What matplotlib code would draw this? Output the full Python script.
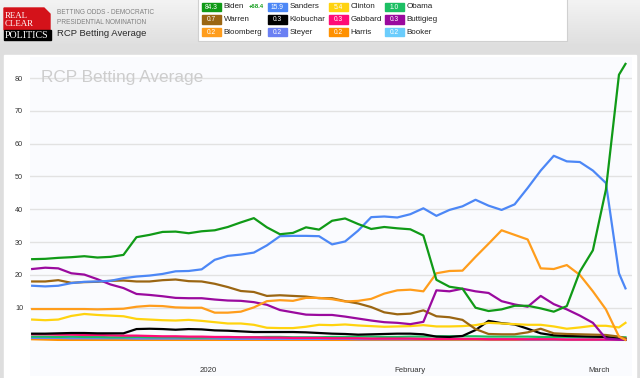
import matplotlib
matplotlib.use("Agg")
import matplotlib.pyplot as plt
import matplotlib.dates as mdates
import numpy as np
import pandas as pd
from matplotlib.patches import Rectangle, Polygon

# every other day from Dec 5 2019, plus the latest day
dates = list(pd.date_range("2019-12-05", "2020-03-04", freq="2D")) + [pd.Timestamp("2020-03-05")]

biden = [24.8, 24.9, 25.2, 25.4, 25.7, 25.3, 25.5, 26.1, 31.5, 32.2,
         33.1, 33.2, 32.7, 33.3, 33.6, 34.6, 36.0, 37.3, 34.5, 32.4,
         32.8, 34.5, 33.8, 36.5, 37.2, 35.5, 34.0, 34.6, 34.2, 33.9,
         32.0, 18.5, 16.4, 15.8, 10.0, 9.0, 9.5, 10.6, 10.6, 9.8,
         8.8, 10.5, 21.0, 27.5, 46.0, 81.0, 84.3]
sanders = [16.7, 16.5, 16.7, 17.5, 17.9, 18.0, 18.2, 19.0, 19.5, 19.8,
           20.3, 21.1, 21.2, 21.7, 24.6, 25.8, 26.2, 26.8, 29.0, 31.8,
           31.9, 31.9, 31.8, 29.3, 30.2, 33.5, 37.6, 37.8, 37.5, 38.5,
           40.3, 38.0, 39.8, 40.9, 42.9, 41.1, 39.8, 41.5, 46.5, 51.8,
           56.3, 54.6, 54.4, 51.8, 48.0, 20.5, 15.9]
warren = [18.0, 18.0, 18.4, 17.6, 17.8, 17.9, 18.2, 18.3, 18.0, 18.0,
          18.4, 18.6, 18.1, 18.0, 17.3, 16.3, 15.1, 14.8, 13.6, 13.8,
          13.6, 13.4, 12.9, 12.9, 12.0, 11.3, 10.2, 8.6, 8.0, 8.2,
          9.2, 7.4, 7.1, 6.3, 3.5, 2.0, 1.9, 1.9, 2.5, 3.6,
          2.2, 2.0, 1.9, 1.8, 1.7, 1.2, 0.7]
bloomberg = [9.6, 9.6, 9.6, 9.6, 9.6, 9.5, 9.6, 9.7, 10.3, 10.6,
             10.5, 10.1, 10.0, 10.0, 8.5, 8.5, 8.8, 10.1, 12.0, 12.3,
             12.1, 13.0, 13.0, 12.6, 11.9, 12.1, 12.7, 14.3, 15.3, 15.5,
             15.0, 20.5, 21.2, 21.3, 25.5, 29.5, 33.6, 32.2, 30.8, 22.0,
             21.8, 23.0, 20.0, 15.0, 9.5, 1.2, 0.2]
klobuchar = [2.1, 2.1, 2.2, 2.3, 2.3, 2.2, 2.2, 2.2, 3.5, 3.6,
             3.5, 3.3, 3.5, 3.4, 3.1, 3.0, 2.8, 2.6, 2.6, 2.6,
             2.6, 2.5, 2.3, 2.1, 2.0, 1.8, 1.9, 2.0, 2.1, 2.1,
             1.9, 1.2, 1.1, 1.4, 3.2, 6.0, 5.3, 4.9, 3.6, 2.2,
             1.6, 1.4, 1.3, 1.2, 1.1, 0.6, 0.3]
steyer = [0.8, 0.8, 0.8, 0.7, 0.7, 0.7, 0.7, 0.7, 0.6, 0.6,
          0.6, 0.6, 0.6, 0.6, 0.6, 0.5, 0.5, 0.5, 0.5, 0.5,
          0.5, 0.5, 0.5, 0.5, 0.5, 0.4, 0.4, 0.4, 0.4, 0.4,
          0.4, 0.4, 0.4, 0.4, 0.4, 0.4, 0.4, 0.4, 0.3, 0.3,
          0.3, 0.3, 0.3, 0.3, 0.2, 0.2, 0.2]
clinton = [6.4, 6.2, 6.4, 7.5, 8.1, 7.8, 7.6, 7.4, 6.6, 6.4,
           6.2, 6.1, 6.3, 6.0, 5.6, 5.2, 5.2, 4.8, 3.9, 3.8,
           3.8, 4.2, 4.8, 4.7, 4.9, 4.6, 4.4, 4.2, 4.3, 4.4,
           4.7, 4.3, 4.3, 4.4, 4.7, 5.4, 5.2, 5.0, 4.8, 4.8,
           4.3, 3.6, 4.0, 4.5, 4.5, 4.0, 5.4]
gabbard = [1.9, 1.9, 1.8, 1.8, 1.7, 1.7, 1.6, 1.5, 1.5, 1.4,
           1.3, 1.3, 1.2, 1.2, 1.1, 1.1, 1.0, 1.0, 0.9, 0.9,
           0.8, 0.8, 0.8, 0.7, 0.7, 0.7, 0.6, 0.6, 0.6, 0.6,
           0.5, 0.5, 0.5, 0.5, 0.5, 0.4, 0.4, 0.4, 0.4, 0.4,
           0.4, 0.3, 0.3, 0.3, 0.3, 0.3, 0.3]
harris = [0.4, 0.3, 0.2, 0.2, 0.2, 0.2, 0.2, 0.2, 0.2, 0.2,
          0.2, 0.2, 0.2, 0.2, 0.2, 0.2, 0.2, 0.2, 0.2, 0.2,
          0.2, 0.2, 0.2, 0.2, 0.2, 0.2, 0.2, 0.2, 0.2, 0.2,
          0.2, 0.2, 0.2, 0.2, 0.2, 0.2, 0.2, 0.2, 0.2, 0.2,
          0.2, 0.2, 0.2, 0.2, 0.2, 0.2, 0.2]
obama = [1.2, 1.2, 1.1, 1.2, 1.1, 1.1, 1.0, 1.0, 1.1, 1.0,
         1.0, 1.0, 0.9, 0.9, 1.0, 1.0, 1.0, 1.0, 1.1, 1.1,
         1.0, 1.0, 1.0, 1.1, 1.1, 1.2, 1.2, 1.1, 1.1, 1.2,
         1.2, 1.3, 1.3, 1.3, 1.3, 1.2, 1.2, 1.2, 1.2, 1.1,
         1.1, 1.1, 1.1, 1.0, 1.0, 1.0, 1.0]
buttigieg = [21.8, 22.2, 22.0, 20.5, 20.1, 18.7, 17.1, 16.0, 14.2, 13.9,
             13.5, 13.0, 12.9, 12.9, 12.5, 12.2, 12.1, 11.7, 10.9, 9.3,
             8.6, 7.9, 7.8, 7.8, 7.3, 6.7, 6.1, 5.6, 5.4, 5.0,
             5.7, 15.3, 15.0, 15.8, 15.0, 14.5, 12.0, 11.0, 10.3, 13.6,
             11.1, 9.5, 7.6, 5.4, 0.6, 0.3, 0.3]
booker = [0.6, 0.6, 0.6, 0.6, 0.6, 0.6, 0.5, 0.5, 0.5, 0.5,
          0.5, 0.5, 0.5, 0.5, 0.5, 0.4, 0.4, 0.3, 0.2, 0.2,
          0.2, 0.2, 0.2, 0.2, 0.2, 0.2, 0.2, 0.2, 0.2, 0.2,
          0.2, 0.2, 0.2, 0.2, 0.2, 0.2, 0.2, 0.2, 0.2, 0.2,
          0.2, 0.2, 0.2, 0.2, 0.2, 0.2, 0.2]

series = {
    "Biden": biden, "Warren": warren, "Bloomberg": bloomberg,
    "Sanders": sanders, "Klobuchar": klobuchar, "Steyer": steyer,
    "Clinton": clinton, "Gabbard": gabbard, "Harris": harris,
    "Obama": obama, "Buttigieg": buttigieg, "Booker": booker,
}
colors = {
    "Biden": "#109a17", "Warren": "#9b6613", "Bloomberg": "#ff9d1c",
    "Sanders": "#4c87f6", "Klobuchar": "#000000", "Steyer": "#6b80f3",
    "Clinton": "#ffd30f", "Gabbard": "#ff0b77", "Harris": "#ff9100",
    "Obama": "#1cbf63", "Buttigieg": "#9a0a9e", "Booker": "#6bcdfc",
}
# legend layout: columns of names as in the header box
legend_cols = [["Biden", "Warren", "Bloomberg"],
               ["Sanders", "Klobuchar", "Steyer"],
               ["Clinton", "Gabbard", "Harris"],
               ["Obama", "Buttigieg", "Booker"]]
draw_order = ["Booker", "Harris", "Steyer", "Obama", "Gabbard", "Klobuchar",
              "Clinton", "Warren", "Buttigieg", "Bloomberg", "Sanders", "Biden"]

plt.rcParams["font.family"] = ["Liberation Sans", "DejaVu Sans"]

W, H = 640, 378
fig = plt.figure(figsize=(W / 100, H / 100), dpi=100, facecolor="#dedede")

# background, header, logo, legend box (pixel coordinates)
bg = fig.add_axes([0, 0, 1, 1])
grad = np.linspace(0, 1, 50).reshape(-1, 1)
bg.imshow(grad, extent=(0, W, 44, 0), cmap=matplotlib.colors.LinearSegmentedColormap.from_list(
    "hdr", ["#f3f3f3", "#e0e0e0"]), aspect="auto", zorder=0)
bg.add_patch(Rectangle((0, 44), W, H - 44, color="#dedede", zorder=0))
bg.add_patch(Rectangle((4, 55), 632, H - 55, color="white", zorder=1))
bg.set_xlim(0, W)
bg.set_ylim(H, 0)
bg.axis("off")

bg.add_patch(Polygon([(4, 8), (44, 8), (50, 14), (50, 30), (4, 30)], closed=True,
                     color="#d4121a", zorder=2))
bg.add_patch(Rectangle((4, 30), 47, 9.5, color="black", zorder=2))
serif = ["Liberation Serif", "DejaVu Serif"]
bg.text(5, 15.5, "REAL", family=serif, fontsize=6.4, color="white", va="center", zorder=3)
bg.text(5, 24.5, "CLEAR", family=serif, fontsize=6.4, color="white", va="center", zorder=3)
bg.text(4.8, 35, "POLITICS", family=serif, fontsize=7.2, color="white", va="center", zorder=3)
bg.text(57, 13, "BETTING ODDS - DEMOCRATIC", fontsize=4.7, color="#808080", va="center")
bg.text(57, 22, "PRESIDENTIAL NOMINATION", fontsize=4.7, color="#808080", va="center")
bg.text(57, 33.5, "RCP Betting Average", fontsize=6.8, color="#2a2a2a", va="center")

bg.add_patch(Rectangle((198, -2), 369, 43, facecolor="white", edgecolor="#d0d0d0",
                       lw=0.8, zorder=2))
col_x = [202, 268, 329, 385]
row_y = [7, 19.5, 32]
for cx, names in zip(col_x, legend_cols):
    for ry, name in zip(row_y, names):
        bg.add_patch(Rectangle((cx, ry - 4.2), 18.5, 8.4, color=colors[name], zorder=3))
        bg.text(cx + 9.25, ry + 0.2, f"{series[name][-1]:.1f}", fontsize=4.8, color="white",
                ha="center", va="center", zorder=4)
        bg.text(cx + 21.5, ry, name, fontsize=5.8, color="#222222", va="center", zorder=4)
lead = series["Biden"][-1] - series["Sanders"][-1]
bg.text(256.5, 7, f"+{lead:.1f}", fontsize=4.3, color="#119c1b", fontweight="bold",
        ha="center", va="center", zorder=4)

# chart
ax = fig.add_axes([30 / W, 2 / H, 602 / W, (376 - 57) / H])
ax.set_facecolor("#fafbfe")
for name in draw_order:
    ax.plot(dates, series[name], color=colors[name], lw=1.6, solid_joinstyle="round", zorder=3)

ax.set_xlim(pd.Timestamp("2019-12-04 16:00"), pd.Timestamp("2020-03-06"))
ax.set_ylim(-10.8, 86.4)
ax.set_yticks(range(10, 90, 10))
ax.grid(axis="y", color="#e2e2e2", lw=1)
ax.set_xticks([pd.Timestamp("2020-01-01"), pd.Timestamp("2020-02-01"), pd.Timestamp("2020-03-01")])
ax.set_xticklabels(["2020", "February", "March"])
ax.tick_params(axis="x", length=0, pad=-6.8, labelsize=5.6, labelcolor="#333333")
ax.tick_params(axis="y", length=0, pad=5, labelsize=5.2, labelcolor="#333333")
for s in ax.spines.values():
    s.set_visible(False)
ax.text(0.019, 0.935, "RCP Betting Average", transform=ax.transAxes, fontsize=12.4,
        color="#cdcdcd", va="center")

fig.savefig("out.png", dpi=100, facecolor=fig.get_facecolor())
